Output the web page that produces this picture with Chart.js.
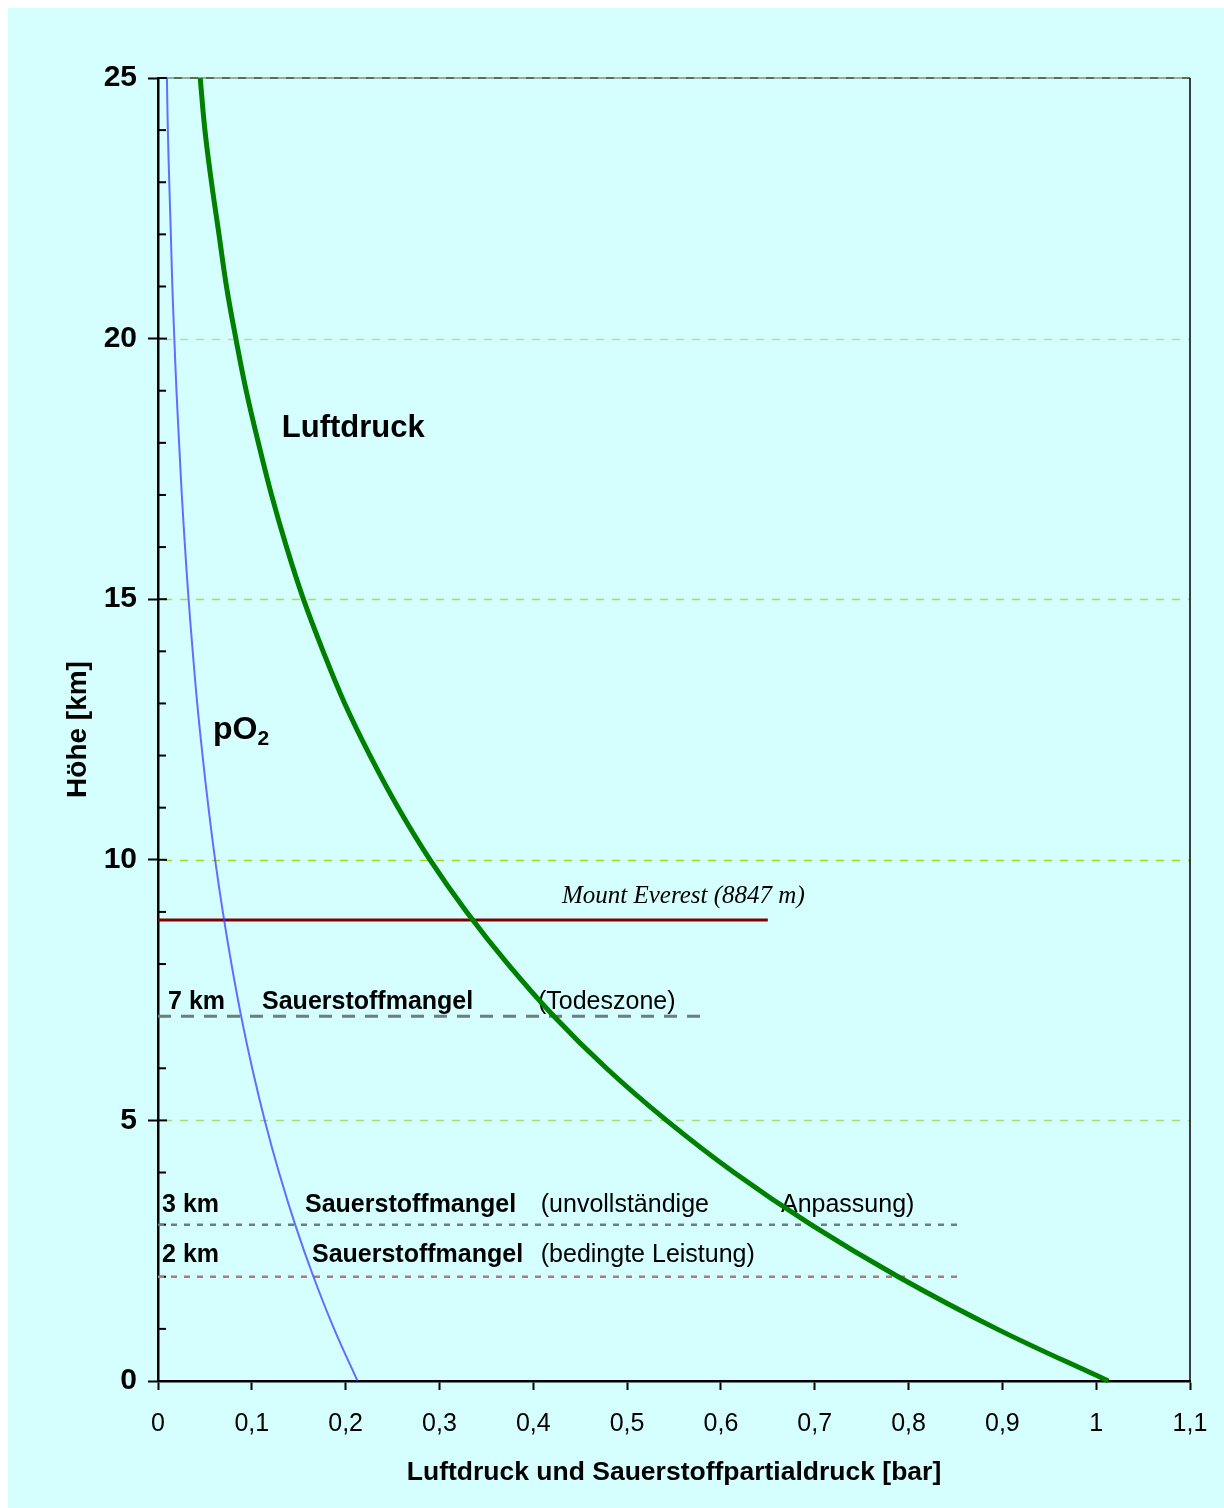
<!DOCTYPE html>
<html><head><meta charset="utf-8">
<script src="https://cdn.jsdelivr.net/npm/chart.js@4/dist/chart.umd.min.js"></script>
<style>
html,body{margin:0;padding:0;background:#fff;}
canvas{display:block;}
</style>
</head><body>
<canvas id="c" width="1224" height="1508"></canvas>
<script>
// ---- data ----
const heightsKm = [0,1,2,3,4,5,6,7,8,9,10,11,12,13,14,15,16,17,18,19,20,21,22,23,24,25];
const airPressureBar = [1.013,0.894,0.789,0.696,0.614,0.542,0.478,0.422,0.373,0.329,0.290,0.256,0.226,0.199,0.176,0.155,0.137,0.121,0.107,0.094,0.083,0.073,0.065,0.057,0.050,0.045];
const oxygenPartialBar = [0.2127,0.1877,0.1657,0.1462,0.1290,0.1138,0.1004,0.0886,0.0783,0.0691,0.0609,0.0538,0.0475,0.0418,0.0370,0.0326,0.0288,0.0254,0.0225,0.0197,0.0174,0.0153,0.0137,0.0120,0.0105,0.0095];
const everestKm = 8.847;
const everestLineEndBar = 0.65;
const deathZoneKm = 7;
const deathZoneLineEndBar = 0.583;
const limit3Km = 3;
const limit2Km = 2;
const limitLinesEndBar = 0.853;
const yTickLabels = ['0','5','10','15','20','25'];
const xTitle = 'Luftdruck und Sauerstoffpartialdruck [bar]';
const yTitle = 'Höhe [km]';
const seriesLabels = ['Luftdruck','pO2'];

const bgPlugin = {
  id:'bg',
  beforeDraw(chart){
    const ctx=chart.ctx;
    ctx.save();
    ctx.fillStyle='#ffffff';
    ctx.fillRect(0,0,chart.width,chart.height);
    ctx.fillStyle='#d5ffff';
    ctx.fillRect(8,8,chart.width-8,chart.height-8);
    ctx.restore();
  }
};

const gridColors = {5:'#a8d880',10:'#a6d820',15:'#b0e040',20:'#b8dca0'};

const gridPlugin = {
  id:'customGrid',
  beforeDatasetsDraw(chart){
    const ctx=chart.ctx, xs=chart.scales.x, ys=chart.scales.y, a=chart.chartArea;
    ctx.save();
    [5,10,15,20].forEach(v=>{
      const y=Math.round(ys.getPixelForValue(v))+0.5;
      ctx.strokeStyle=gridColors[v];
      ctx.lineWidth=1.5;
      ctx.setLineDash([8,8]);
      ctx.beginPath();ctx.moveTo(a.left+6,y);ctx.lineTo(a.right,y);ctx.stroke();
    });
    const yt=ys.getPixelForValue(25);
    ctx.setLineDash([]);
    ctx.strokeStyle='#7f8c8c';ctx.lineWidth=1.5;
    ctx.beginPath();ctx.moveTo(a.left,yt);ctx.lineTo(a.right,yt);ctx.stroke();
    ctx.setLineDash([8,8]);
    ctx.strokeStyle='#4f5f1f';
    ctx.beginPath();ctx.moveTo(a.left,yt);ctx.lineTo(a.right,yt);ctx.stroke();
    ctx.setLineDash([]);
    ctx.strokeStyle='#000';ctx.lineWidth=1.5;
    ctx.beginPath();ctx.moveTo(a.right,a.top);ctx.lineTo(a.right,a.bottom);ctx.stroke();
    ctx.lineWidth=2;ctx.strokeStyle='#000';
    for(let v=0;v<=25;v++){
      const y=ys.getPixelForValue(v);
      const len = (v%5===0)?9:8;
      ctx.beginPath();ctx.moveTo(a.left,y);ctx.lineTo(a.left+len,y);ctx.stroke();
    }
    ctx.restore();
  }
};

const textPlugin = {
  id:'texts',
  beforeDatasetsDraw(chart){
    const ctx=chart.ctx, xs=chart.scales.x, ys=chart.scales.y;
    const X=v=>xs.getPixelForValue(v), Y=v=>ys.getPixelForValue(v);
    ctx.save();
    ctx.fillStyle='#000';
    ctx.textBaseline='middle';
    ctx.textAlign='left';
    const put=(t,x,y,font)=>{ctx.font=font;ctx.fillText(t,X(x),Y(y));};
    const B='bold 25px "Liberation Sans", Arial, sans-serif';
    const N='25px "Liberation Sans", Arial, sans-serif';
    put(seriesLabels[0],0.132,18.28,'bold 31px "Liberation Sans", Arial, sans-serif');
    ctx.font='bold 32px "Liberation Sans", Arial, sans-serif';
    const px=X(0.0586), py=Y(12.49);
    ctx.fillText('pO',px,py);
    const w=ctx.measureText('pO').width;
    ctx.font='bold 21px "Liberation Sans", Arial, sans-serif';
    ctx.fillText('2',px+w,py+9);
    put('Mount Everest (8847 m)',0.4306,9.29,'italic 25px "Liberation Serif", "Times New Roman", serif');
    put('7 km',0.0107,7.27,B);
    put('Sauerstoffmangel',0.1109,7.27,B);
    put('(Todeszone)',0.405,7.27,N);
    put('3 km',0.0043,3.38,B);
    put('Sauerstoffmangel',0.1567,3.38,B);
    put('(unvollständige',0.408,3.38,N);
    put('Anpassung)',0.664,3.38,N);
    put('2 km',0.0043,2.42,B);
    put('Sauerstoffmangel',0.1641,2.42,B);
    put('(bedingte Leistung)',0.408,2.42,N);
    ctx.restore();
  }
};

const pts=(xsArr)=>xsArr.map((v,i)=>({x:v,y:heightsKm[i]}));
const hline=(y,xEnd)=>[{x:0,y:y},{x:xEnd,y:y}];

new Chart(document.getElementById('c'),{
  type:'scatter',
  data:{datasets:[
    {label:seriesLabels[0],data:pts(airPressureBar),showLine:true,borderColor:'#008000',borderWidth:5,pointRadius:0,tension:0.4,clip:false},
    {label:seriesLabels[1],data:pts(oxygenPartialBar),showLine:true,borderColor:'rgba(60,60,255,0.75)',borderWidth:2,pointRadius:0,tension:0.4,clip:false},
    {label:'Everest',data:hline(everestKm,everestLineEndBar),showLine:true,borderColor:'#800000',borderWidth:3,pointRadius:0},
    {label:'7 km',data:hline(deathZoneKm,deathZoneLineEndBar),showLine:true,borderColor:'#6e7e7e',borderWidth:3,borderDash:[13,10],pointRadius:0},
    {label:'3 km',data:hline(limit3Km,limitLinesEndBar),showLine:true,borderColor:'#6e7e7e',borderWidth:2.5,borderDash:[6,7],pointRadius:0},
    {label:'2 km',data:hline(limit2Km,limitLinesEndBar),showLine:true,borderColor:'#b07a7a',borderWidth:2.5,borderDash:[6,7],pointRadius:0}
  ]},
  options:{
    responsive:false,animation:false,devicePixelRatio:1,
    layout:{padding:{left:0,top:78,right:34,bottom:0}},
    plugins:{legend:{display:false},tooltip:{enabled:false}},
    scales:{
      x:{type:'linear',min:0,max:1.1,
        afterFit(s){s.height=127;s.paddingLeft=0;s.paddingRight=0;},
        ticks:{stepSize:0.1,color:'#000',padding:19,maxRotation:0,autoSkip:false,
          font:{family:'"Liberation Sans", Arial, sans-serif',size:25},
          callback:(v)=>String(Math.round(v*10)/10).replace('.',',')},
        grid:{drawOnChartArea:false,drawTicks:true,tickLength:9,tickColor:'#000',tickWidth:2},
        border:{display:true,color:'#000',width:2.5},
        title:{display:true,text:xTitle,color:'#000',padding:{top:0,bottom:19},
          font:{family:'"Liberation Sans", Arial, sans-serif',size:26.5,weight:'bold'}}
      },
      y:{type:'linear',min:0,max:25,
        afterFit(s){s.width=158;s.paddingTop=0;s.paddingBottom=0;},
        ticks:{stepSize:5,color:'#000',padding:11,
          font:{family:'"Liberation Sans", Arial, sans-serif',size:30,weight:'bold'},
          callback:(v)=>yTickLabels[Math.round(v/5)]},
        grid:{drawOnChartArea:false,drawTicks:true,tickLength:10,tickColor:'#000',tickWidth:2},
        border:{display:true,color:'#000',width:2.5},
        title:{display:true,text:yTitle,color:'#000',padding:{top:61,bottom:0},
          font:{family:'"Liberation Sans", Arial, sans-serif',size:28,weight:'bold'}}
      }
    }
  },
  plugins:[bgPlugin,gridPlugin,textPlugin]
});
</script>
</body></html>
